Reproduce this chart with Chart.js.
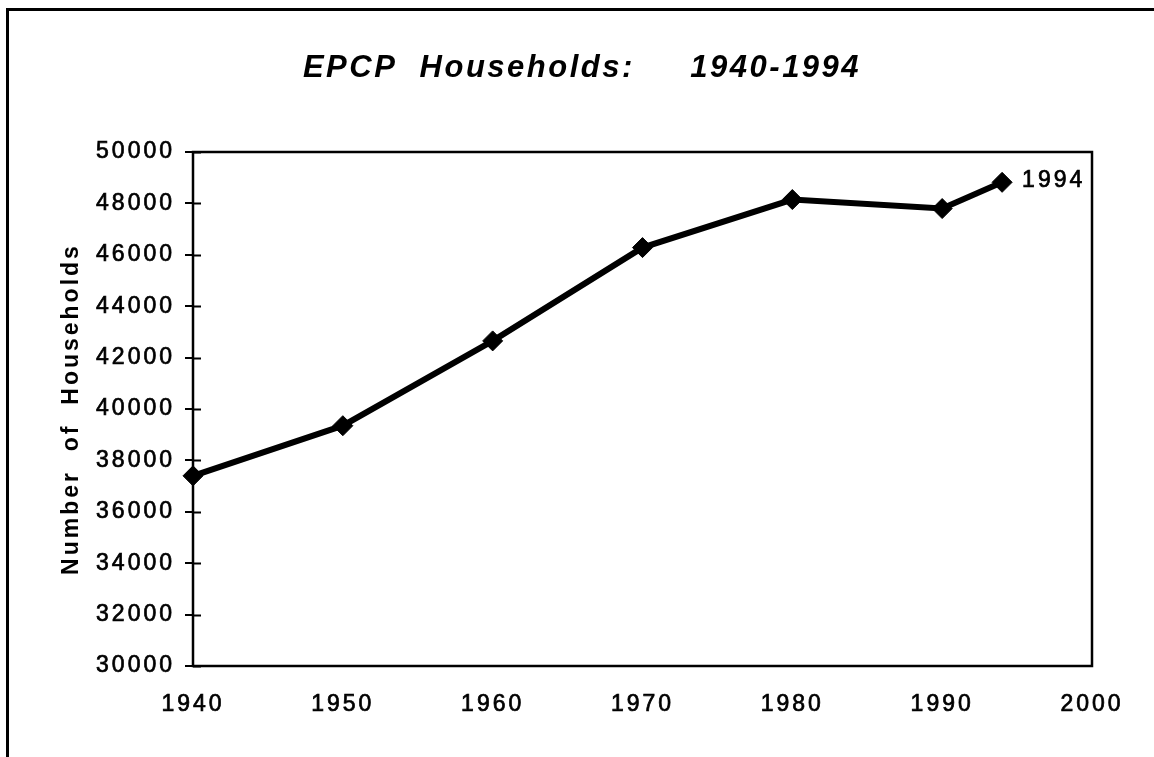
<!DOCTYPE html>
<html>
<head>
<meta charset="utf-8">
<title>EPCP Households</title>
<script src="https://cdn.jsdelivr.net/npm/chart.js@4.4.1/dist/chart.umd.min.js"></script>
<style>
  html, body { margin: 0; padding: 0; background: #fff; }
  canvas { display: block; }
</style>
</head>
<body>
<canvas id="graf" width="1154" height="757"></canvas>
<script>
// dados do gráfico
const anos = [1940, 1950, 1960, 1970, 1980, 1990, 1994];
const domicilios = [37400, 39350, 42650, 46280, 48150, 47800, 48820];
const rotuloUltimo = '1994';

const titulo = 'EPCP  Households:     1940-1994';
const tituloEixoY = 'Number  of  Households';

const fonte = '"Liberation Sans", Arial, Helvetica, sans-serif';

// espaçamento entre letras em todo o texto do canvas
const espacamentoPlugin = {
  id: 'espacamento',
  beforeUpdate(chart) { chart.ctx.letterSpacing = '3px'; },
  beforeDraw(chart) { chart.ctx.letterSpacing = '3px'; }
};

// moldura externa, título e caixa do gráfico
const molduraPlugin = {
  id: 'moldura',
  beforeDraw(chart) {
    const { ctx, width, height } = chart;
    ctx.save();
    ctx.fillStyle = '#fff';
    ctx.fillRect(0, 0, width, height);
    ctx.strokeStyle = '#000';
    ctx.lineWidth = 3;
    ctx.beginPath();
    ctx.moveTo(7.5, height);
    ctx.lineTo(7.5, 9.5);
    ctx.lineTo(width, 9.5);
    ctx.stroke();

    ctx.font = 'italic bold 31px ' + fonte;
    ctx.letterSpacing = '2.5px';
    ctx.fillStyle = '#000';
    ctx.textAlign = 'center';
    ctx.textBaseline = 'middle';
    ctx.fillText(titulo, width / 2 + 5, 68);
    ctx.restore();
  },
  afterDatasetsDraw(chart) {
    const { ctx, chartArea: a } = chart;
    const y = chart.scales.y;
    ctx.save();
    ctx.strokeStyle = '#000';
    ctx.lineWidth = 2.5;
    ctx.strokeRect(a.left, a.top, a.right - a.left, a.bottom - a.top);

    // marcas do eixo Y para dentro da área
    ctx.lineWidth = 2;
    ctx.beginPath();
    y.ticks.forEach((t) => {
      const py = Math.round(y.getPixelForValue(t.value)) + 0.5;
      ctx.moveTo(a.left, py);
      ctx.lineTo(a.left + 8, py);
    });
    ctx.stroke();

    // rótulo do último ponto
    const meta = chart.getDatasetMeta(0);
    const ultimo = meta.data[meta.data.length - 1];
    ctx.font = '23px ' + fonte;
    ctx.fillStyle = '#000';
    ctx.lineWidth = 0.7;
    ctx.textAlign = 'left';
    ctx.textBaseline = 'middle';
    ctx.fillText(rotuloUltimo, ultimo.x + 20, ultimo.y - 2);
    ctx.strokeText(rotuloUltimo, ultimo.x + 20, ultimo.y - 2);
    ctx.restore();
  }
};

new Chart(document.getElementById('graf'), {
  type: 'line',
  data: {
    datasets: [{
      data: anos.map((a, i) => ({ x: a, y: domicilios[i] })),
      borderColor: '#000',
      backgroundColor: '#000',
      borderWidth: 6,
      pointStyle: 'rectRot',
      pointRadius: 10,
      pointBorderWidth: 1,
      pointBackgroundColor: '#000',
      pointBorderColor: '#000',
      tension: 0,
      clip: false
    }]
  },
  options: {
    responsive: false,
    animation: false,
    layout: { padding: { left: 40, right: 62, top: 152, bottom: 0 } },
    plugins: {
      legend: { display: false },
      tooltip: { enabled: false }
    },
    scales: {
      x: {
        type: 'linear',
        min: 1940,
        max: 2000,
        afterFit(scale) { scale.height = 91; },
        ticks: {
          stepSize: 10,
          color: '#000',
          padding: 25,
          textStrokeColor: '#000',
          textStrokeWidth: 0.7,
          font: { family: fonte, size: 23 },
          callback: (v) => String(v)
        },
        grid: { display: false, drawTicks: false },
        border: { display: false }
      },
      y: {
        min: 30000,
        max: 50000,
        afterFit(scale) { scale.width = 153; },
        ticks: {
          stepSize: 2000,
          color: '#000',
          padding: 10,
          textStrokeColor: '#000',
          textStrokeWidth: 0.7,
          font: { family: fonte, size: 23 },
          callback: (v) => String(v)
        },
        grid: {
          drawOnChartArea: false,
          drawTicks: true,
          tickLength: 8,
          color: '#000',
          lineWidth: 2
        },
        border: { display: false },
        title: {
          display: true,
          text: tituloEixoY,
          color: '#000',
          font: { family: fonte, size: 23, weight: 'bold' },
          padding: { top: 18, bottom: 0 }
        }
      }
    }
  },
  plugins: [espacamentoPlugin, molduraPlugin]
});
</script>
</body>
</html>
